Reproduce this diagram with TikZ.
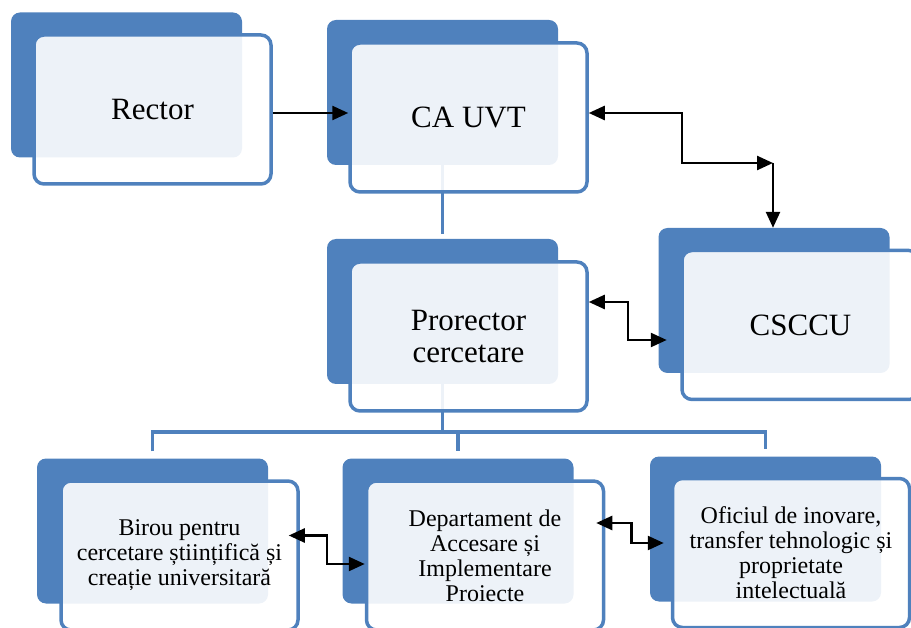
\documentclass[tikz,border=0pt]{standalone}
\usepackage{fontspec}
\setmainfont{Liberation Serif}
\newfontfamily\boxfont{Liberation Serif}
\usepackage{tikz}
\usetikzlibrary{arrows.meta}
\definecolor{boxblue}{HTML}{4F81BD}

\begin{document}
\begin{tikzpicture}[x=1pt,y=-1pt,
  back/.style={rectangle,rounded corners=9pt,fill=boxblue,minimum width=231pt,minimum height=145pt,inner sep=0pt},
  front/.style={rectangle,rounded corners=10pt,draw=boxblue,line width=3.5pt,fill=white,fill opacity=0.9,text opacity=1,
    minimum width=237pt,minimum height=149pt,inner sep=0pt,align=center,font=\boxfont\fontsize{31}{32}\selectfont},
  small/.style={font=\boxfont\fontsize{24}{25}\selectfont},
  tree/.style={draw=boxblue,line width=3.5pt},
  dlink/.style={line width=2.5pt,{Triangle[length=16pt,width=14pt]}-{Triangle[length=16pt,width=14pt]}},
  slink/.style={line width=2.5pt,-{Triangle[length=16pt,width=14pt]}}]
\useasboundingbox (0,0) rectangle (911,628);
\clip (0,0) rectangle (911,628);

\node[back] (rectorB) at (126.5,85) {};
\node[back] (causvtB) at (442.5,92.5) {};
\node[back] (prorectorB) at (442.5,311.5) {};
\node[back] (csccuB) at (774,300.5) {};
\node[back] (birouB) at (152.5,531) {};
\node[back] (depB) at (458,531) {};
\node[back] (oficiuB) at (765.5,529) {};

\draw[tree,shorten <=-1pt,shorten >=5pt] (causvtB.south) -- (prorectorB.north);
\draw[tree] (prorectorB.south) -- ++(0,48) coordinate (hub);
\draw[tree] ([yshift=7pt]birouB.north) |- (hub) -| ([yshift=7pt]oficiuB.north);
\draw[tree] (depB.north |- hub) -- ([yshift=7pt]depB.north);

\node[front] (rector) at (152.5,109.5) {Rector};
\node[front] (causvt) at (468.5,117.5) {CA UVT};
\node[front] (prorector) at (468.5,336.5) {Prorector\\cercetare};
\node[front] (csccu) at (800.5,325) {CSCCU};
\node[front,small] (birou) at (179.5,555.5) {Birou pentru\\cercetare științifică și\\creație universitară};
\node[front,small] (dep) at (485,555.5) {Departament de\\Accesare și\\Implementare\\Proiecte};
\node[front,small] (oficiu) at (791,553) {Oficiul de inovare,\\transfer tehnologic și\\proprietate\\intelectuală};

\draw[slink] ([yshift=-3.5pt]rector.east) -- ([yshift=-3.5pt]rector.east -| causvt.west);
\coordinate (split) at (773,163);
\draw[dlink] ([yshift=4.5pt]causvt.east) -| (682,163) -- (split);
\draw[slink] (split) -- (split |- csccuB.north);
\draw[dlink] ([yshift=34.5pt]prorector.east) -| ++(39,38) -- ++(39,0);
\draw[dlink] ([xshift=-11pt,yshift=20pt]birou.east) -| ++(38,28.5) -- ([yshift=-8.5pt]dep.west);
\draw[dlink] ([xshift=-9pt,yshift=32.5pt]dep.east) -| ++(35,20) -- ([xshift=-7pt,yshift=10pt]oficiu.west);
\end{tikzpicture}
\end{document}
